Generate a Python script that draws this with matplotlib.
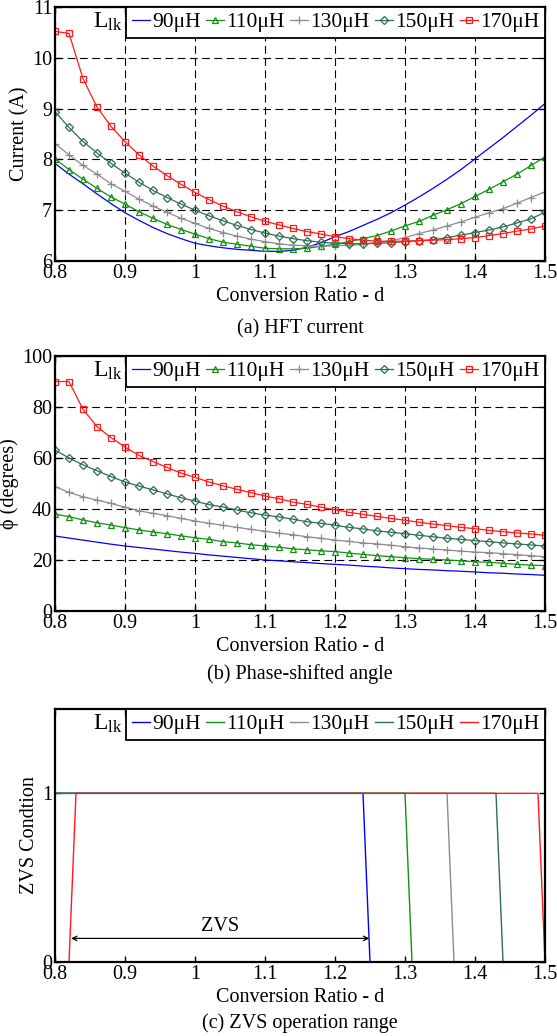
import numpy as np
import matplotlib
matplotlib.use('Agg')
import matplotlib.pyplot as plt
from matplotlib.ticker import FormatStrFormatter

plt.rcParams['font.family'] = ['Liberation Serif', 'DejaVu Serif']
plt.rcParams['mathtext.fontset'] = 'stix'

# conversion ratio samples (every 0.02)
d = [0.80, 0.82, 0.84, 0.86, 0.88, 0.90, 0.92, 0.94, 0.96, 0.98,
     1.00, 1.02, 1.04, 1.06, 1.08, 1.10, 1.12, 1.14, 1.16, 1.18,
     1.20, 1.22, 1.24, 1.26, 1.28, 1.30, 1.32, 1.34, 1.36, 1.38,
     1.40, 1.42, 1.44, 1.46, 1.48, 1.50]

labels = ['90μH', '110μH', '130μH', '150μH', '170μH']

# (a) HFT current [A]
cur_90 = [7.92, 7.71, 7.52, 7.32, 7.13, 6.95, 6.80, 6.66, 6.54, 6.44,
          6.35, 6.30, 6.26, 6.23, 6.21, 6.19, 6.19, 6.21, 6.27, 6.36,
          6.48, 6.58, 6.70, 6.82, 6.95, 7.10, 7.26, 7.43, 7.61, 7.80,
          8.01, 8.22, 8.43, 8.65, 8.87, 9.10]
cur_110 = [8.01, 7.80, 7.61, 7.43, 7.26, 7.12, 6.97, 6.84, 6.72, 6.62,
           6.53, 6.44, 6.37, 6.33, 6.29, 6.25, 6.24, 6.24, 6.25, 6.29,
           6.33, 6.38, 6.44, 6.50, 6.59, 6.69, 6.78, 6.90, 7.01, 7.13,
           7.27, 7.41, 7.56, 7.71, 7.88, 8.05]
cur_130 = [8.31, 8.09, 7.88, 7.71, 7.52, 7.37, 7.22, 7.08, 6.96, 6.84,
           6.74, 6.64, 6.56, 6.49, 6.43, 6.38, 6.34, 6.31, 6.30, 6.29,
           6.30, 6.31, 6.33, 6.36, 6.40, 6.46, 6.54, 6.61, 6.69, 6.77,
           6.86, 6.95, 7.03, 7.14, 7.25, 7.36]
cur_150 = [8.94, 8.63, 8.35, 8.13, 7.92, 7.73, 7.55, 7.39, 7.25, 7.12,
           7.00, 6.89, 6.79, 6.70, 6.62, 6.55, 6.49, 6.44, 6.40, 6.37,
           6.35, 6.34, 6.34, 6.35, 6.36, 6.38, 6.40, 6.42, 6.46, 6.51,
           6.56, 6.61, 6.67, 6.75, 6.83, 6.96]
cur_170 = [10.52, 10.48, 9.59, 9.03, 8.65, 8.35, 8.09, 7.87, 7.68, 7.51,
           7.35, 7.21, 7.08, 6.97, 6.87, 6.78, 6.71, 6.64, 6.58, 6.53,
           6.48, 6.44, 6.41, 6.39, 6.39, 6.39, 6.40, 6.41, 6.42, 6.44,
           6.46, 6.50, 6.54, 6.59, 6.63, 6.69]

# (b) phase-shifted angle [deg]
phi_90 = [29.4, 28.6, 27.8, 27.0, 26.2, 25.5, 24.9, 24.3, 23.7, 23.1,
          22.6, 22.0, 21.5, 21.0, 20.5, 20.0, 19.7, 19.3, 19.0, 18.6,
          18.3, 18.0, 17.6, 17.3, 16.9, 16.6, 16.3, 16.1, 15.8, 15.6,
          15.3, 15.0, 14.8, 14.5, 14.3, 14.0]
phi_110 = [38.0, 37.0, 35.7, 34.6, 33.7, 32.7, 31.8, 31.0, 30.3, 29.5,
           28.7, 28.1, 27.2, 26.7, 26.0, 25.5, 25.0, 24.4, 24.0, 23.6,
           23.3, 22.7, 22.2, 21.7, 21.3, 20.9, 20.5, 20.3, 20.0, 19.7,
           19.3, 19.1, 18.7, 18.3, 18.0, 17.8]
phi_130 = [48.8, 46.5, 44.8, 43.5, 42.2, 40.7, 39.3, 38.3, 37.4, 36.3,
           35.3, 34.4, 33.6, 32.8, 32.0, 31.3, 30.5, 29.9, 29.1, 28.5,
           27.8, 27.3, 26.7, 26.3, 25.8, 25.2, 24.7, 24.3, 23.9, 23.5,
           23.1, 22.9, 22.5, 22.1, 21.7, 21.3]
phi_150 = [63.1, 60.0, 57.3, 55.0, 52.7, 50.6, 49.0, 47.5, 45.9, 44.4,
           43.1, 41.7, 40.8, 39.6, 38.5, 37.6, 36.9, 36.0, 35.0, 34.4,
           33.6, 32.8, 32.2, 31.4, 30.9, 30.3, 29.7, 29.1, 28.5, 28.1,
           27.6, 27.2, 26.7, 26.3, 25.9, 25.5]
phi_170 = [90.0, 90.0, 79.1, 72.3, 68.0, 64.3, 61.0, 58.6, 56.3, 54.1,
           52.4, 50.6, 49.1, 47.7, 46.4, 45.1, 44.0, 42.7, 41.8, 40.7,
           39.7, 38.7, 37.9, 37.1, 36.3, 35.6, 34.8, 34.1, 33.5, 32.8,
           32.3, 31.6, 31.1, 30.6, 30.2, 29.7]

# (c) ZVS condition breakpoints
zvs_d_90 = [0.80, 1.24, 1.25, 1.50]
zvs_90 = [1, 1, 0, 0]
zvs_d_110 = [0.80, 1.30, 1.31, 1.50]
zvs_110 = [1, 1, 0, 0]
zvs_d_130 = [0.80, 1.36, 1.37, 1.50]
zvs_130 = [1, 1, 0, 0]
zvs_d_150 = [0.80, 1.43, 1.44, 1.50]
zvs_150 = [1, 1, 0, 0]
zvs_d_170 = [0.80, 0.82, 0.83, 1.49, 1.50]
zvs_170 = [0, 0, 1, 1, 0]

colors = ['#0000ff', '#119111', '#8c8c8c', '#2f6f4f', '#ff1a1a']
markers = [None, '^', '+', 'D', 's']
msizes = [0, 5, 6, 3.6, 4.8]

FS = 14.5
W, H = 557, 1036
fig = plt.figure(figsize=(W / 100, H / 100), dpi=100)


def make_ax(top, bottom):
    ax = fig.add_axes([55 / W, 1 - bottom / H, 490 / W, (bottom - top) / H])
    for s in ax.spines.values():
        s.set_linewidth(1.6)
    ax.tick_params(direction='in', length=4, width=1, labelsize=FS, pad=2,
                   top=True, right=True)
    ax.set_xlim(0.8, 1.5)
    ax.set_xticks(np.arange(0.8, 1.51, 0.1))
    ax.xaxis.set_major_formatter(FormatStrFormatter('%g'))
    ax.set_xlabel('Conversion Ratio - d', fontsize=FS, labelpad=3)
    return ax


def add_legend(ax, handles):
    ax.legend(handles, labels, loc='upper right', bbox_to_anchor=(1.0, 1.0),
              ncol=5, fontsize=FS + 1, handlelength=0.85, handletextpad=0.1,
              columnspacing=0.25, borderpad=0.25, borderaxespad=0,
              frameon=True, fancybox=False, framealpha=1, edgecolor='black',
              numpoints=1)
    ax.get_legend().get_frame().set_linewidth(1.3)
    ax.text(0.138, 0.94, r'$\mathregular{L_{lk}}$', transform=ax.transAxes,
            ha='right', va='center', fontsize=FS + 2.5, zorder=10)


def draw_series(ax, series):
    hs = []
    for y, c, m, ms in zip(series, colors, markers, msizes):
        h, = ax.plot(d, y, color=c, lw=0.9, marker=m, markersize=ms,
                     markerfacecolor='none', markeredgecolor=c, markeredgewidth=0.9)
        hs.append(h)
    return hs


def grid(ax):
    ax.grid(True, color='black', linestyle=(0, (7, 4)), linewidth=0.8)
    ax.set_axisbelow(True)


# (a)
ax1 = make_ax(7, 261)
grid(ax1)
h1 = draw_series(ax1, [cur_90, cur_110, cur_130, cur_150, cur_170])
ax1.set_ylim(6, 11)
ax1.set_yticks(range(6, 12))
ax1.set_ylabel('Current (A)', fontsize=FS, labelpad=2)
add_legend(ax1, h1)
fig.text(0.5 * (55 + 545) / W, 1 - 329 / H, '(a) HFT current', ha='center',
         va='center', fontsize=FS)

# (b)
ax2 = make_ax(356, 611)
grid(ax2)
h2 = draw_series(ax2, [phi_90, phi_110, phi_130, phi_150, phi_170])
ax2.set_ylim(0, 100)
ax2.set_yticks(range(0, 101, 20))
ax2.set_ylabel('ϕ (degrees)', fontsize=FS, labelpad=2)
add_legend(ax2, h2)
fig.text(0.5 * (55 + 545) / W, 1 - 674 / H, '(b) Phase-shifted angle', ha='center',
         va='center', fontsize=FS)

# (c)
ax3 = make_ax(709, 962)
h3 = []
for xs, ys, c in zip([zvs_d_90, zvs_d_110, zvs_d_130, zvs_d_150, zvs_d_170],
                     [zvs_90, zvs_110, zvs_130, zvs_150, zvs_170], colors):
    h, = ax3.plot(xs, ys, color=c, lw=1.0)
    h3.append(h)
ax3.set_ylim(0, 1.5)
ax3.set_yticks([0, 1])
ax3.set_ylabel('ZVS Condtion', fontsize=FS, labelpad=2)
add_legend(ax3, h3)
ax3.annotate('', xy=(0.823, 0.14), xytext=(1.249, 0.14),
             arrowprops=dict(arrowstyle='<->', color='black', lw=0.9,
                             shrinkA=0, shrinkB=0, mutation_scale=8))
ax3.text(1.036, 0.21, 'ZVS', ha='center', va='center', fontsize=FS)
fig.text(0.5 * (55 + 545) / W, 1 - 1023 / H, '(c) ZVS operation range', ha='center',
         va='center', fontsize=FS)

fig.savefig('out.png', dpi=100)
